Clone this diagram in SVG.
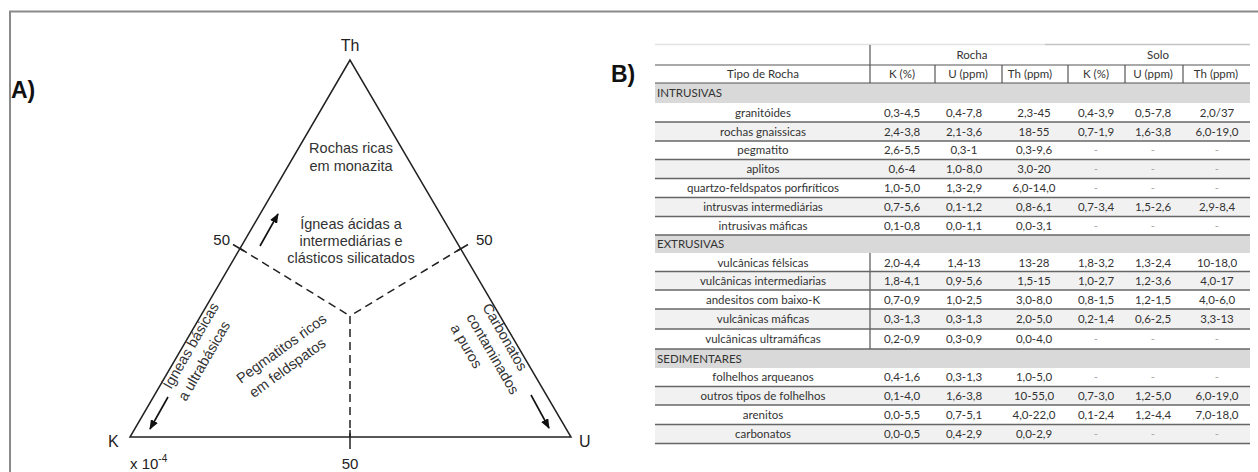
<svg xmlns="http://www.w3.org/2000/svg" width="1258" height="472" viewBox="0 0 1258 472">
  <style>
    .lbl { font-family: "Liberation Sans", Arial, sans-serif; fill: #222; }
    .panel { font-size: 23px; font-weight: bold; fill: #111; }
    .vtx { font-size: 16px; }
    .zone { font-size: 14.5px; fill: #333; }
    .tick { font-size: 15px; }
    .edge { stroke: #222; stroke-width: 1.5; fill: none; }
    .dash { stroke: #222; stroke-width: 1.5; fill: none; stroke-dasharray: 8 5; }
    .arrow { stroke: #111; stroke-width: 1.6; fill: none; marker-end: url(#head); }
    .t { font-family: Lato, "Liberation Sans", sans-serif; font-size: 11.5px; fill: #333; text-anchor: middle; }
    .sec { font-family: Lato, "Liberation Sans", sans-serif; font-size: 11.5px; fill: #333; }
    .nd { fill: #aaa; }
    .band { fill: #d9d9d9; }
    .alt { fill: #f1f1f1; }
    .rule { stroke: #666; stroke-width: 1.3; }
    .hrule { stroke: #555; stroke-width: 1.2; }
  </style>
  <defs>
    <marker id="head" viewBox="0 0 10 8" refX="9" refY="4" markerWidth="10" markerHeight="8" markerUnits="userSpaceOnUse" orient="auto">
      <path d="M0,0 L10,4 L0,8 z" fill="#111"/>
    </marker>
  </defs>

  <rect width="1258" height="472" fill="#fff"/>

  <!-- outer frame: only the top and left edges fall inside the canvas -->
  <g id="frame">
    <path d="M10,472 V11.5 H1258" fill="none" stroke="#8a8a8a" stroke-width="2"/>
  </g>

  <!-- Panel A: K-U-Th ternary diagram -->
  <g id="panel-a">
    <text class="lbl panel" x="11" y="98">A)</text>

    <g id="triangle">
      <path class="edge" d="M350,60 L130,437 L571,437 Z"/>
    </g>

    <g id="connectors">
      <!-- 50 % boundaries -->
      <path class="dash" d="M240,248.5 L350,316"/>
      <path class="dash" d="M461,248.5 L350,316"/>
      <path class="dash" d="M350,316 L350,437"/>
      <!-- scale ticks -->
      <path class="edge" d="M233,244.5 L244,251"/>
      <path class="edge" d="M468,244.5 L457,251"/>
      <path class="edge" d="M350,430 L350,449"/>
      <!-- trend arrows -->
      <path class="arrow" d="M260,246 L278,214"/>
      <path class="arrow" d="M168,397 L150,429"/>
      <path class="arrow" d="M531,395 L549,428"/>
    </g>

    <g id="vertex-th"><text class="lbl vtx" x="350" y="51" text-anchor="middle">Th</text></g>
    <g id="vertex-k"><text class="lbl vtx" x="108" y="447">K</text></g>
    <g id="vertex-u"><text class="lbl vtx" x="579" y="447">U</text></g>

    <g id="scale-labels">
      <text class="lbl tick" x="230" y="245" text-anchor="end">50</text>
      <text class="lbl tick" x="476" y="245">50</text>
      <text class="lbl tick" x="350" y="469" text-anchor="middle">50</text>
      <text class="lbl tick" x="130" y="469">x 10<tspan font-size="10" dy="-7">-4</tspan></text>
    </g>

    <g id="zone-monazita">
      <text class="lbl zone" x="351" y="153" text-anchor="middle">Rochas ricas</text>
      <text class="lbl zone" x="351" y="171" text-anchor="middle">em monazita</text>
    </g>
    <g id="zone-acidas">
      <text class="lbl zone" x="351" y="229" text-anchor="middle">Ígneas ácidas a</text>
      <text class="lbl zone" x="351" y="246" text-anchor="middle">intermediárias e</text>
      <text class="lbl zone" x="351" y="263" text-anchor="middle">clásticos silicatados</text>
    </g>
    <g id="zone-basicas" transform="translate(171,390) rotate(-60)">
      <text class="lbl zone" x="0" y="0">Ígneas básicas</text>
      <text class="lbl zone" x="-3" y="19">a ultrabásicas</text>
    </g>
    <g id="zone-pegmatitos" transform="translate(241,384) rotate(-36)">
      <text class="lbl zone" x="0" y="0">Pegmatitos ricos</text>
      <text class="lbl zone" x="2" y="19">em feldspatos</text>
    </g>
    <g id="zone-carbonatos" transform="translate(482,307) rotate(60)">
      <text class="lbl zone" x="0" y="0">Carbonatos</text>
      <text class="lbl zone" x="1" y="19">contaminados</text>
      <text class="lbl zone" x="2" y="38">a puros</text>
    </g>
  </g>

  <!-- Panel B: K, U, Th contents of rocks and soils -->
  <g id="panel-b">
    <text class="lbl panel" x="611" y="82">B)</text>

    <g id="table-fills">
      <rect class="band" x="655" y="83" width="595" height="20"/>
      <rect class="alt" x="655" y="122" width="595" height="19"/>
      <rect class="alt" x="655" y="159.5" width="595" height="19"/>
      <rect class="alt" x="655" y="197.5" width="595" height="19"/>
      <rect class="band" x="655" y="235" width="595" height="18"/>
      <rect class="alt" x="655" y="271.5" width="595" height="18.5"/>
      <rect class="alt" x="655" y="309" width="595" height="20"/>
      <rect class="band" x="655" y="349" width="595" height="19"/>
      <rect class="alt" x="655" y="386.5" width="595" height="18.5"/>
      <rect class="alt" x="655" y="424.5" width="595" height="19"/>
    </g>

    <g id="table-rules">
      <line x1="655" y1="44.5" x2="1045" y2="44.5" stroke="#e2e2e2" stroke-width="1.5"/>
      <line x1="1045" y1="44.5" x2="1250" y2="44.5" stroke="#c4c4c4" stroke-width="1.5"/>
      <line class="hrule" x1="655" y1="65" x2="1250" y2="65"/>
      <line class="hrule" x1="655" y1="83" x2="1250" y2="83"/>
      <line class="hrule" x1="870" y1="45" x2="870" y2="83"/>
      <line class="hrule" x1="935" y1="65" x2="935" y2="83"/>
      <line class="hrule" x1="1002" y1="65" x2="1002" y2="83"/>
      <line class="hrule" x1="1068" y1="65" x2="1068" y2="83"/>
      <line class="hrule" x1="1125" y1="65" x2="1125" y2="83"/>
      <line class="hrule" x1="1183" y1="65" x2="1183" y2="83"/>
      <line class="hrule" x1="870" y1="253" x2="870" y2="349"/>
      <line class="rule" x1="655" y1="122" x2="1250" y2="122"/>
      <line class="rule" x1="655" y1="141" x2="1250" y2="141"/>
      <line class="rule" x1="655" y1="159.5" x2="1250" y2="159.5"/>
      <line class="rule" x1="655" y1="178.5" x2="1250" y2="178.5"/>
      <line class="rule" x1="655" y1="197.5" x2="1250" y2="197.5"/>
      <line class="rule" x1="655" y1="216.5" x2="1250" y2="216.5"/>
      <line class="rule" x1="655" y1="235" x2="1250" y2="235"/>
      <line class="rule" x1="655" y1="271.5" x2="1250" y2="271.5"/>
      <line class="rule" x1="655" y1="290" x2="1250" y2="290"/>
      <line class="rule" x1="655" y1="309" x2="1250" y2="309"/>
      <line class="rule" x1="655" y1="329" x2="1250" y2="329"/>
      <line class="rule" x1="655" y1="349" x2="1250" y2="349"/>
      <line class="rule" x1="655" y1="386.5" x2="1250" y2="386.5"/>
      <line class="rule" x1="655" y1="405" x2="1250" y2="405"/>
      <line class="rule" x1="655" y1="424.5" x2="1250" y2="424.5"/>
      <line class="rule" x1="655" y1="443.5" x2="1250" y2="443.5"/>
    </g>

    <g id="table-header">
      <text class="t" x="972" y="59">Rocha</text>
      <text class="t" x="1158" y="59">Solo</text>
      <text class="t" x="763" y="78">Tipo de Rocha</text>
      <text class="t" x="902" y="78">K (%)</text>
      <text class="t" x="968" y="78">U (ppm)</text>
      <text class="t" x="1030" y="78">Th (ppm)</text>
      <text class="t" x="1096" y="78">K (%)</text>
      <text class="t" x="1153" y="78">U (ppm)</text>
      <text class="t" x="1216" y="78">Th (ppm)</text>
    </g>

    <g id="section-intrusivas">
      <text class="sec" x="657" y="97">INTRUSIVAS</text>
      <g transform="translate(0,116.5)">
        <text class="t" x="763">granitóides</text><text class="t" x="902">0,3-4,5</text><text class="t" x="964">0,4-7,8</text><text class="t" x="1034">2,3-45</text><text class="t" x="1096">0,4-3,9</text><text class="t" x="1153">0,5-7,8</text><text class="t" x="1217">2,0/37</text>
      </g>
      <g transform="translate(0,135.5)">
        <text class="t" x="763">rochas gnaissicas</text><text class="t" x="902">2,4-3,8</text><text class="t" x="964">2,1-3,6</text><text class="t" x="1034">18-55</text><text class="t" x="1096">0,7-1,9</text><text class="t" x="1153">1,6-3,8</text><text class="t" x="1217">6,0-19,0</text>
      </g>
      <g transform="translate(0,154)">
        <text class="t" x="763">pegmatito</text><text class="t" x="902">2,6-5,5</text><text class="t" x="964">0,3-1</text><text class="t" x="1034">0,3-9,6</text><text class="t nd" x="1096">-</text><text class="t nd" x="1153">-</text><text class="t nd" x="1217">-</text>
      </g>
      <g transform="translate(0,173)">
        <text class="t" x="763">aplitos</text><text class="t" x="902">0,6-4</text><text class="t" x="964">1,0-8,0</text><text class="t" x="1034">3,0-20</text><text class="t nd" x="1096">-</text><text class="t nd" x="1153">-</text><text class="t nd" x="1217">-</text>
      </g>
      <g transform="translate(0,192)">
        <text class="t" x="763">quartzo-feldspatos porfiríticos</text><text class="t" x="902">1,0-5,0</text><text class="t" x="964">1,3-2,9</text><text class="t" x="1034">6,0-14,0</text><text class="t nd" x="1096">-</text><text class="t nd" x="1153">-</text><text class="t nd" x="1217">-</text>
      </g>
      <g transform="translate(0,211)">
        <text class="t" x="763">intrusvas intermediárias</text><text class="t" x="902">0,7-5,6</text><text class="t" x="964">0,1-1,2</text><text class="t" x="1034">0,8-6,1</text><text class="t" x="1096">0,7-3,4</text><text class="t" x="1153">1,5-2,6</text><text class="t" x="1217">2,9-8,4</text>
      </g>
      <g transform="translate(0,230)">
        <text class="t" x="763">intrusivas máficas</text><text class="t" x="902">0,1-0,8</text><text class="t" x="964">0,0-1,1</text><text class="t" x="1034">0,0-3,1</text><text class="t nd" x="1096">-</text><text class="t nd" x="1153">-</text><text class="t nd" x="1217">-</text>
      </g>
    </g>

    <g id="section-extrusivas">
      <text class="sec" x="657" y="248">EXTRUSIVAS</text>
      <g transform="translate(0,266.5)">
        <text class="t" x="763">vulcânicas félsicas</text><text class="t" x="902">2,0-4,4</text><text class="t" x="964">1,4-13</text><text class="t" x="1034">13-28</text><text class="t" x="1096">1,8-3,2</text><text class="t" x="1153">1,3-2,4</text><text class="t" x="1217">10-18,0</text>
      </g>
      <g transform="translate(0,285)">
        <text class="t" x="763">vulcânicas intermediarias</text><text class="t" x="902">1,8-4,1</text><text class="t" x="964">0,9-5,6</text><text class="t" x="1034">1,5-15</text><text class="t" x="1096">1,0-2,7</text><text class="t" x="1153">1,2-3,6</text><text class="t" x="1217">4,0-17</text>
      </g>
      <g transform="translate(0,303.5)">
        <text class="t" x="763">andesitos com baixo-K</text><text class="t" x="902">0,7-0,9</text><text class="t" x="964">1,0-2,5</text><text class="t" x="1034">3,0-8,0</text><text class="t" x="1096">0,8-1,5</text><text class="t" x="1153">1,2-1,5</text><text class="t" x="1217">4,0-6,0</text>
      </g>
      <g transform="translate(0,323)">
        <text class="t" x="763">vulcânicas máficas</text><text class="t" x="902">0,3-1,3</text><text class="t" x="964">0,3-1,3</text><text class="t" x="1034">2,0-5,0</text><text class="t" x="1096">0,2-1,4</text><text class="t" x="1153">0,6-2,5</text><text class="t" x="1217">3,3-13</text>
      </g>
      <g transform="translate(0,343)">
        <text class="t" x="763">vulcânicas ultramáficas</text><text class="t" x="902">0,2-0,9</text><text class="t" x="964">0,3-0,9</text><text class="t" x="1034">0,0-4,0</text><text class="t nd" x="1096">-</text><text class="t nd" x="1153">-</text><text class="t nd" x="1217">-</text>
      </g>
    </g>

    <g id="section-sedimentares">
      <text class="sec" x="657" y="362.5">SEDIMENTARES</text>
      <g transform="translate(0,381)">
        <text class="t" x="763">folhelhos arqueanos</text><text class="t" x="902">0,4-1,6</text><text class="t" x="964">0,3-1,3</text><text class="t" x="1034">1,0-5,0</text><text class="t nd" x="1096">-</text><text class="t nd" x="1153">-</text><text class="t nd" x="1217">-</text>
      </g>
      <g transform="translate(0,399.5)">
        <text class="t" x="763">outros tipos de folhelhos</text><text class="t" x="902">0,1-4,0</text><text class="t" x="964">1,6-3,8</text><text class="t" x="1034">10-55,0</text><text class="t" x="1096">0,7-3,0</text><text class="t" x="1153">1,2-5,0</text><text class="t" x="1217">6,0-19,0</text>
      </g>
      <g transform="translate(0,419)">
        <text class="t" x="763">arenitos</text><text class="t" x="902">0,0-5,5</text><text class="t" x="964">0,7-5,1</text><text class="t" x="1034">4,0-22,0</text><text class="t" x="1096">0,1-2,4</text><text class="t" x="1153">1,2-4,4</text><text class="t" x="1217">7,0-18,0</text>
      </g>
      <g transform="translate(0,438)">
        <text class="t" x="763">carbonatos</text><text class="t" x="902">0,0-0,5</text><text class="t" x="964">0,4-2,9</text><text class="t" x="1034">0,0-2,9</text><text class="t nd" x="1096">-</text><text class="t nd" x="1153">-</text><text class="t nd" x="1217">-</text>
      </g>
    </g>
  </g>
</svg>
